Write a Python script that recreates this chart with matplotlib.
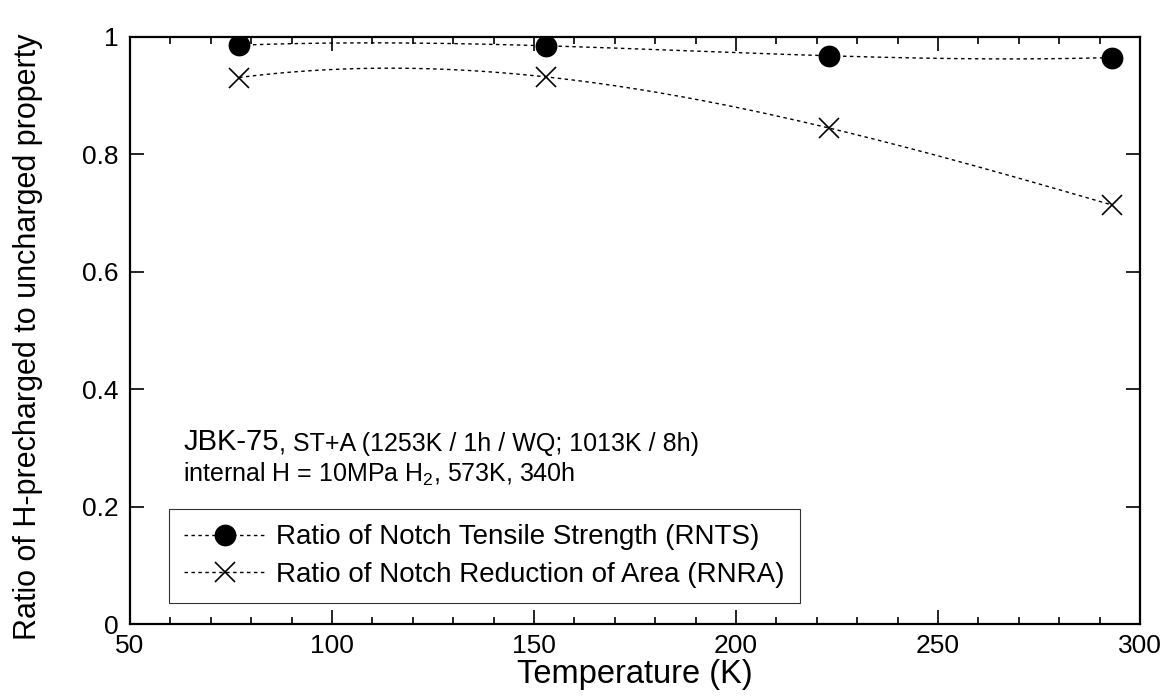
import numpy as np
import matplotlib
matplotlib.use("Agg")
import matplotlib.pyplot as plt
from matplotlib.ticker import MultipleLocator

plt.rcParams['font.family'] = ['Liberation Sans', 'DejaVu Sans']
plt.rcParams['mathtext.fontset'] = 'custom'
plt.rcParams['mathtext.rm'] = 'Liberation Sans'

# data
temp = [77, 153, 223, 293]
rnts = [0.986, 0.985, 0.968, 0.965]
rnra = [0.931, 0.932, 0.845, 0.714]
lbl_rnts = "Ratio of Notch Tensile Strength (RNTS)"
lbl_rnra = "Ratio of Notch Reduction of Area (RNRA)"

fig = plt.figure(figsize=(11.64, 7), dpi=100)
ax = fig.add_axes([130/1164, 1-624/700, 1010/1164, 587/700])

dash = (0, (2.5, 2.5))
xs = np.linspace(temp[0], temp[-1], 200)
for ys, mk, lab in [(rnts, 'o', lbl_rnts), (rnra, 'x', lbl_rnra)]:
    # smooth curve through the points, like the original
    c = np.polyfit(temp, ys, 3)
    ax.plot(xs, np.polyval(c, xs), color='k', lw=1, linestyle=dash)
    ax.plot(temp, ys, mk, color='k', ms=14.5, mew=1.2)
    # legend handle
    ax.plot([], [], color='k', lw=1, linestyle=dash, marker=mk,
            ms=14.5, mew=1.2, label=lab)

ax.set_xlim(50, 300)
ax.set_ylim(0, 1)
ax.xaxis.set_major_locator(MultipleLocator(50))
ax.xaxis.set_minor_locator(MultipleLocator(10))
ax.set_yticks([0, 0.2, 0.4, 0.6, 0.8, 1])
ax.set_yticklabels(['0', '0.2', '0.4', '0.6', '0.8', '1'])

ax.tick_params(which='both', direction='in', top=True, right=True, labelsize=19)
ax.tick_params(which='major', length=10, width=1.2)
ax.tick_params(which='minor', length=5, width=1.2)
ax.tick_params(axis='x', pad=7)
ax.tick_params(axis='y', pad=8)
for s in ax.spines.values():
    s.set_linewidth(1.6)

ax.set_xlabel("Temperature (K)", fontsize=23.5, labelpad=1)
ax.set_ylabel("Ratio of H-precharged to uncharged property", fontsize=22)
ax.yaxis.set_label_coords(-0.086, 0.49)

t1 = ax.text(0.0525, 0.296, "JBK-75", fontsize=21, transform=ax.transAxes,
             va='baseline')
ax.annotate(", ST+A (1253K / 1h / WQ; 1013K / 8h)", xy=(1, 0), xycoords=t1,
            fontsize=18, va='bottom')
ax.text(0.0525, 0.243, "internal H = 10MPa H$_2$, 573K, 340h", fontsize=18,
        transform=ax.transAxes, va='baseline')

leg = ax.legend(loc='lower left', bbox_to_anchor=(0.0386, 0.036), fontsize=20,
                frameon=True, fancybox=False, edgecolor='k', handlelength=2.9,
                borderpad=0.55, labelspacing=0.4, handletextpad=0.4,
                borderaxespad=0)
leg.get_frame().set_linewidth(0.8)

fig.savefig("out.png", dpi=100)
